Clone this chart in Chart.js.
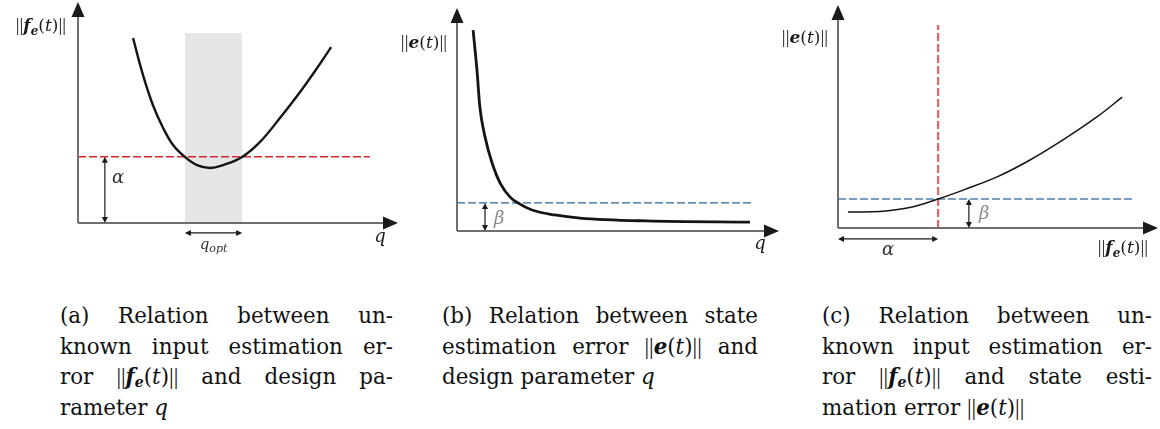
<!DOCTYPE html>
<html lang="en">
<head>
<meta charset="UTF-8">
<title>Relations between design parameter and estimation errors</title>
<script src="https://cdn.jsdelivr.net/npm/chart.js@4.4.0/dist/chart.umd.min.js"></script>
<style>
  body { margin: 0; background: #fff; width: 1160px; height: 429px; position: relative; overflow: hidden; }
  canvas { position: absolute; top: 0; }
  .cap { position: absolute; top: 301px; font-family: "DejaVu Serif", serif; font-size: 21.4px; line-height: 30.5px; color: #111; }
  .cap span { display: block; text-align: justify; text-align-last: justify; white-space: nowrap; }
  .cap span.last { text-align-last: left; }
  .cap i { font-style: italic; }
  .cap .n { display: inline; font-family: "Liberation Serif", serif; font-size: 23px; }
  .cap sub { font-size: 14px; vertical-align: -3px; line-height: 0; }
</style>
</head>
<body>
<canvas id="chartA" width="400" height="265" style="left:0px"></canvas>
<canvas id="chartB" width="400" height="265" style="left:380px"></canvas>
<canvas id="chartC" width="390" height="265" style="left:770px"></canvas>

<div class="cap" style="left:60px;width:333px">
  <span>(a) Relation between un-</span>
  <span>known input estimation er-</span>
  <span>ror <span class="n">||</span><b><i>f</i></b><sub><b><i>e</i></b></sub>(<i>t</i>)<span class="n">||</span> and design pa-</span>
  <span class="last">rameter <i>q</i></span>
</div>
<div class="cap" style="left:442px;width:316px">
  <span>(b) Relation between state</span>
  <span>estimation error <span class="n">||</span><b><i>e</i></b>(<i>t</i>)<span class="n">||</span> and</span>
  <span class="last">design parameter <i>q</i></span>
</div>
<div class="cap" style="left:822px;width:330px">
  <span>(c) Relation between un-</span>
  <span>known input estimation er-</span>
  <span>ror <span class="n">||</span><b><i>f</i></b><sub><b><i>e</i></b></sub>(<i>t</i>)<span class="n">||</span> and state esti-</span>
  <span class="last">mation error <span class="n">||</span><b><i>e</i></b>(<i>t</i>)<span class="n">||</span></span>
</div>

<script>
// (a) ||fe(t)|| against q
var qA = [1.72, 2.03, 2.34, 2.66, 2.97, 3.34, 3.72, 4.13, 4.53, 5.13, 5.69, 6.31, 6.94, 7.47, 7.91];
var feA = [8.37, 6.70, 5.34, 4.30, 3.53, 2.99, 2.62, 2.49, 2.62, 2.99, 3.67, 4.75, 5.93, 7.01, 7.96];
var alphaA = 3.0;
var alphaEndA = 9.12;
var bandA = [3.34, 5.13];
var bandTopA = 8.6;

// (b) ||e(t)|| against q
var qB = [0.50, 0.62, 0.71, 0.87, 1.09, 1.34, 1.65, 1.89, 2.33, 3.04, 3.82, 5.90, 9.10];
var eB = [9.01, 7.22, 5.56, 4.22, 3.05, 2.15, 1.52, 1.26, 0.94, 0.72, 0.58, 0.45, 0.40];
var betaB = 1.26;
var betaEndB = 9.13;

// (c) ||e(t)|| against ||fe(t)||
var feC = [0.31, 1.31, 2.16, 2.66, 3.13, 3.91, 4.97, 6.00, 7.03, 8.09, 8.88];
var eC = [0.72, 0.74, 0.90, 1.08, 1.30, 1.70, 2.29, 3.05, 3.95, 4.98, 5.87];
var alphaC = 3.13;
var alphaTopC = 9.1;
var betaC = 1.30;
var betaEndC = 9.19;

function pts(xs, ys) {
  return xs.map(function (x, i) { return { x: x, y: ys[i] }; });
}

var SERIF = '"DejaVu Serif", serif';
var BARS = '"Liberation Serif", serif';

// draw a line of mixed fonts: parts = [text, font, dy, color]
function rich(ctx, parts, x, y, align) {
  var w = 0;
  parts.forEach(function (p) { ctx.font = p[1]; w += ctx.measureText(p[0]).width; });
  var cx = align === 'right' ? x - w : (align === 'center' ? x - w / 2 : x);
  ctx.textBaseline = 'alphabetic';
  ctx.textAlign = 'left';
  parts.forEach(function (p) {
    ctx.font = p[1];
    ctx.fillStyle = p[3] || '#1a1a1a';
    ctx.fillText(p[0], cx, y + (p[2] || 0));
    cx += ctx.measureText(p[0]).width;
  });
}

function normF(size) {
  return [
    ['||', (size + 2) + 'px ' + BARS, 0],
    ['f', 'italic bold ' + size + 'px ' + SERIF, 0],
    ['e', 'italic bold ' + Math.round(size * 0.72) + 'px ' + SERIF, 4],
    ['(', size + 'px ' + SERIF, 0],
    ['t', 'italic ' + size + 'px ' + SERIF, 0],
    [')', size + 'px ' + SERIF, 0],
    ['||', (size + 2) + 'px ' + BARS, 0]
  ];
}
function normE(size) {
  return [
    ['||', (size + 2) + 'px ' + BARS, 0],
    ['e', 'italic bold ' + size + 'px ' + SERIF, 0],
    ['(', size + 'px ' + SERIF, 0],
    ['t', 'italic ' + size + 'px ' + SERIF, 0],
    [')', size + 'px ' + SERIF, 0],
    ['||', (size + 2) + 'px ' + BARS, 0]
  ];
}

function head(ctx, x, y, dx, dy, len, half) {
  // triangle pointing along (dx,dy)
  ctx.beginPath();
  ctx.moveTo(x, y);
  ctx.lineTo(x - dx * len - dy * half, y - dy * len + dx * half);
  ctx.lineTo(x - dx * len + dy * half, y - dy * len - dx * half);
  ctx.closePath();
  ctx.fill();
}

function dbl(ctx, x1, y1, x2, y2) {
  var L = Math.hypot(x2 - x1, y2 - y1), dx = (x2 - x1) / L, dy = (y2 - y1) / L;
  ctx.save();
  ctx.strokeStyle = '#1a1a1a';
  ctx.fillStyle = '#1a1a1a';
  ctx.lineWidth = 1.2;
  ctx.beginPath();
  ctx.moveTo(x1 + dx * 3, y1 + dy * 3);
  ctx.lineTo(x2 - dx * 3, y2 - dy * 3);
  ctx.stroke();
  head(ctx, x2, y2, dx, dy, 6, 3);
  head(ctx, x1, y1, -dx, -dy, 6, 3);
  ctx.restore();
}

// per-chart annotation painters, keyed by canvas id
var painters = {};

// axes with arrowheads, drawn from the scales
var axesPlugin = {
  id: 'arrowAxes',
  afterDatasetsDraw: function (chart) {
    var ctx = chart.ctx, xs = chart.scales.x, ys = chart.scales.y;
    var x0 = xs.getPixelForValue(0), y0 = ys.getPixelForValue(0);
    var xEnd = xs.getPixelForValue(xs.max), yEnd = ys.getPixelForValue(ys.max);
    ctx.save();
    ctx.strokeStyle = '#6f6f6f';
    ctx.lineWidth = 2;
    ctx.beginPath();
    ctx.moveTo(x0, y0); ctx.lineTo(xEnd - 6, y0);
    ctx.moveTo(x0, y0); ctx.lineTo(x0, yEnd + 6);
    ctx.stroke();
    ctx.fillStyle = '#1a1a1a';
    head(ctx, xEnd, y0, 1, 0, 15, 6.5);
    head(ctx, x0, yEnd, 0, -1, 15, 6.5);
    ctx.restore();
    var extra = painters[chart.canvas.id];
    if (extra) { ctx.save(); extra(ctx, xs, ys); ctx.restore(); }
  }
};

function makeChart(id, datasets, pad, draw) {
  painters[id] = draw;
  return new Chart(document.getElementById(id), {
    type: 'scatter',
    data: { datasets: datasets },
    options: {
      responsive: false,
      animation: false,
      devicePixelRatio: 1,
      layout: { padding: pad },
      scales: {
        x: { type: 'linear', display: false, min: 0, max: 10 },
        y: { type: 'linear', display: false, min: 0, max: 10 }
      },
      plugins: { legend: { display: false }, tooltip: { enabled: false } },
      elements: { point: { radius: 0 } }
    },
    plugins: [axesPlugin]
  });
}

function curve(data, width, mono) {
  var ds = { data: data, showLine: true, borderColor: '#141414', borderWidth: width, pointRadius: 0, clip: false };
  if (mono) ds.cubicInterpolationMode = 'monotone'; else ds.tension = 0.4;
  return ds;
}
function dashed(data, color, width) {
  return { data: data, showLine: true, borderColor: color, borderWidth: width, borderDash: [8, 3], pointRadius: 0, clip: false };
}

// (a)
makeChart('chartA', [
  curve(pts(qA, feA), 2.4, false),
  dashed([{ x: 0, y: alphaA }, { x: alphaEndA, y: alphaA }], '#d22a2e', 1.4),
  { data: [{ x: bandA[0], y: bandTopA }, { x: bandA[1], y: bandTopA }], showLine: true, borderWidth: 0, borderColor: 'rgba(0,0,0,0)', backgroundColor: '#e5e6e8', fill: 'origin', pointRadius: 0 }
], { left: 78, top: 2, right: 2, bottom: 42 }, function (ctx, xs, ys) {
  var xa = xs.getPixelForValue(0.84);
  dbl(ctx, xa, ys.getPixelForValue(alphaA), xa, ys.getPixelForValue(0));
  var yq = ys.getPixelForValue(-0.45);
  dbl(ctx, xs.getPixelForValue(bandA[0]), yq, xs.getPixelForValue(bandA[1]), yq);
  rich(ctx, [['\u03b1', 'italic 18px ' + SERIF, 0, '#333']], xa + 7, ys.getPixelForValue(alphaA) + 26, 'left');
  rich(ctx, [['q', 'italic 15px ' + SERIF, 0, '#333'], ['opt', 'italic 11px ' + SERIF, 3, '#333']], (xs.getPixelForValue(bandA[0]) + xs.getPixelForValue(bandA[1])) / 2, yq + 16, 'center');
  rich(ctx, [['q', 'italic 18px ' + SERIF, 0]], 380, 242, 'center');
  rich(ctx, normF(17), xs.getPixelForValue(0) - 12, 31, 'right');
});

// (b)
makeChart('chartB', [
  curve(pts(qB, eB), 2.8, true),
  dashed([{ x: 0, y: betaB }, { x: betaEndB, y: betaB }], '#2b6699', 1.4)
], { left: 77, top: 8, right: 1, bottom: 34 }, function (ctx, xs, ys) {
  var xb = xs.getPixelForValue(0.87);
  dbl(ctx, xb, ys.getPixelForValue(betaB), xb, ys.getPixelForValue(0));
  rich(ctx, [['\u03b2', 'italic 18px ' + SERIF, 0, '#8a8a8a']], xb + 9, 224, 'left');
  rich(ctx, [['q', 'italic 18px ' + SERIF, 0]], 380, 249, 'center');
  rich(ctx, normE(17), xs.getPixelForValue(0) - 10, 48, 'right');
});

// (c)
makeChart('chartC', [
  curve(pts(feC, eC), 1.5, false),
  dashed([{ x: alphaC, y: 0 }, { x: alphaC, y: alphaTopC }], '#e4575b', 2),
  dashed([{ x: 0, y: betaC }, { x: betaEndC, y: betaC }], '#4f80ad', 1.6)
], { left: 68, top: 5, right: 2, bottom: 37 }, function (ctx, xs, ys) {
  var xb = xs.getPixelForValue(4.09);
  dbl(ctx, xb, ys.getPixelForValue(betaC), xb, ys.getPixelForValue(0));
  rich(ctx, [['\u03b2', 'italic 18px ' + SERIF, 0, '#8a8a8a']], xb + 10, 219, 'left');
  var ya = ys.getPixelForValue(-0.49);
  dbl(ctx, xs.getPixelForValue(0), ya, xs.getPixelForValue(alphaC), ya);
  rich(ctx, [['\u03b1', 'italic 18px ' + SERIF, 0, '#333']], 118, 255, 'center');
  rich(ctx, normF(17), 378, 253, 'right');
  rich(ctx, normE(17), xs.getPixelForValue(0) - 10, 43, 'right');
});
</script>
</body>
</html>
